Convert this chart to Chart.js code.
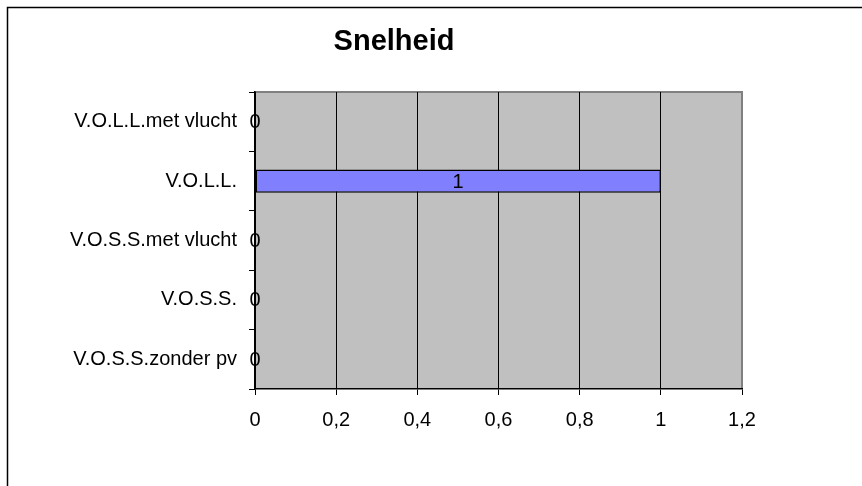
<!DOCTYPE html>
<html>
<head>
<meta charset="utf-8">
<script src="https://cdn.jsdelivr.net/npm/chart.js@4/dist/chart.umd.min.js"></script>
<style>
  html, body { margin: 0; padding: 0; background: #fff; }
  #wrap { width: 862px; height: 486px; position: relative; }
</style>
</head>
<body>
<div id="wrap"><canvas id="myChart" width="862" height="486"></canvas></div>
<script>
const categories = ["V.O.L.L.met vlucht", "V.O.L.L.", "V.O.S.S.met vlucht", "V.O.S.S.", "V.O.S.S.zonder pv"];
const snelheid = [0, 1, 0, 0, 0];
const xTicks = [0, 0.2, 0.4, 0.6, 0.8, 1, 1.2];
const chartTitle = "Snelheid";

const FONT = "'Liberation Sans', Arial, sans-serif";

// grey plot area + grey top/right edge, frame round the whole chart
const backdrop = {
    id: 'backdrop',
    beforeDraw(chart) {
        const { ctx, chartArea: a } = chart;
        ctx.save();
        ctx.fillStyle = '#c0c0c0';
        ctx.fillRect(a.left, a.top, a.right - a.left, a.bottom - a.top);
        ctx.strokeStyle = '#808080';
        ctx.lineWidth = 2;
        ctx.beginPath();
        ctx.moveTo(a.left, a.top);
        ctx.lineTo(a.right, a.top);
        ctx.lineTo(a.right, a.bottom);
        ctx.stroke();
        ctx.strokeStyle = '#000';
        ctx.lineWidth = 1.5;
        ctx.beginPath();
        ctx.moveTo(7.5, chart.height);
        ctx.lineTo(7.5, 7.5);
        ctx.lineTo(chart.width, 7.5);
        ctx.stroke();
        ctx.restore();
    },
    afterDraw(chart) {
        const { ctx } = chart;
        ctx.save();
        ctx.font = 'bold 29px ' + FONT;
        ctx.fillStyle = '#000';
        ctx.textAlign = 'center';
        ctx.textBaseline = 'middle';
        ctx.fillText(chartTitle, 394, 42);
        ctx.restore();
    }
};

// value labels in the middle of each bar
const valueLabels = {
    id: 'valueLabels',
    afterDatasetsDraw(chart) {
        const { ctx } = chart;
        const meta = chart.getDatasetMeta(0);
        ctx.save();
        ctx.font = '20px ' + FONT;
        ctx.fillStyle = '#000';
        ctx.textAlign = 'center';
        ctx.textBaseline = 'middle';
        meta.data.forEach((bar, i) => {
            const x = (bar.x + bar.base) / 2;
            ctx.fillText(String(snelheid[i]).replace('.', ','), x, bar.y + 1);
        });
        ctx.restore();
    }
};

new Chart(document.getElementById('myChart'), {
    type: 'bar',
    data: {
        labels: categories,
        datasets: [{
            label: chartTitle,
            data: snelheid,
            backgroundColor: '#8080ff',
            borderColor: '#000',
            borderWidth: 1.5,
            borderSkipped: false,
            barPercentage: 0.39,
            categoryPercentage: 1
        }]
    },
    options: {
        indexAxis: 'y',
        responsive: false,
        animation: false,
        layout: { padding: { top: 92, right: 120, left: 0, bottom: 0 } },
        plugins: {
            legend: { display: false },
            title: { display: false },
            tooltip: { enabled: false }
        },
        scales: {
            x: {
                min: 0,
                max: 1.2,
                afterFit(scale) { scale.height = 97; },
                afterBuildTicks(scale) { scale.ticks = xTicks.map(v => ({ value: v })); },
                ticks: {
                    color: '#000',
                    font: { family: FONT, size: 20 },
                    padding: 13,
                    maxRotation: 0,
                    callback: v => String(Math.round(v * 10) / 10).replace('.', ',')
                },
                grid: {
                    color: c => (c.tick && c.tick.value === 1.2) ? '#808080' : '#000',
                    lineWidth: 1,
                    tickLength: 6,
                    tickColor: '#000'
                },
                border: { color: '#000', width: 1.5 }
            },
            y: {
                afterFit(scale) { scale.width = 255; },
                ticks: {
                    color: '#000',
                    font: { family: FONT, size: 20 },
                    padding: 12
                },
                grid: {
                    offset: true,
                    drawOnChartArea: false,
                    tickLength: 6,
                    tickColor: '#000'
                },
                border: { color: '#000', width: 1.5 }
            }
        }
    },
    plugins: [backdrop, valueLabels]
});
</script>
</body>
</html>
